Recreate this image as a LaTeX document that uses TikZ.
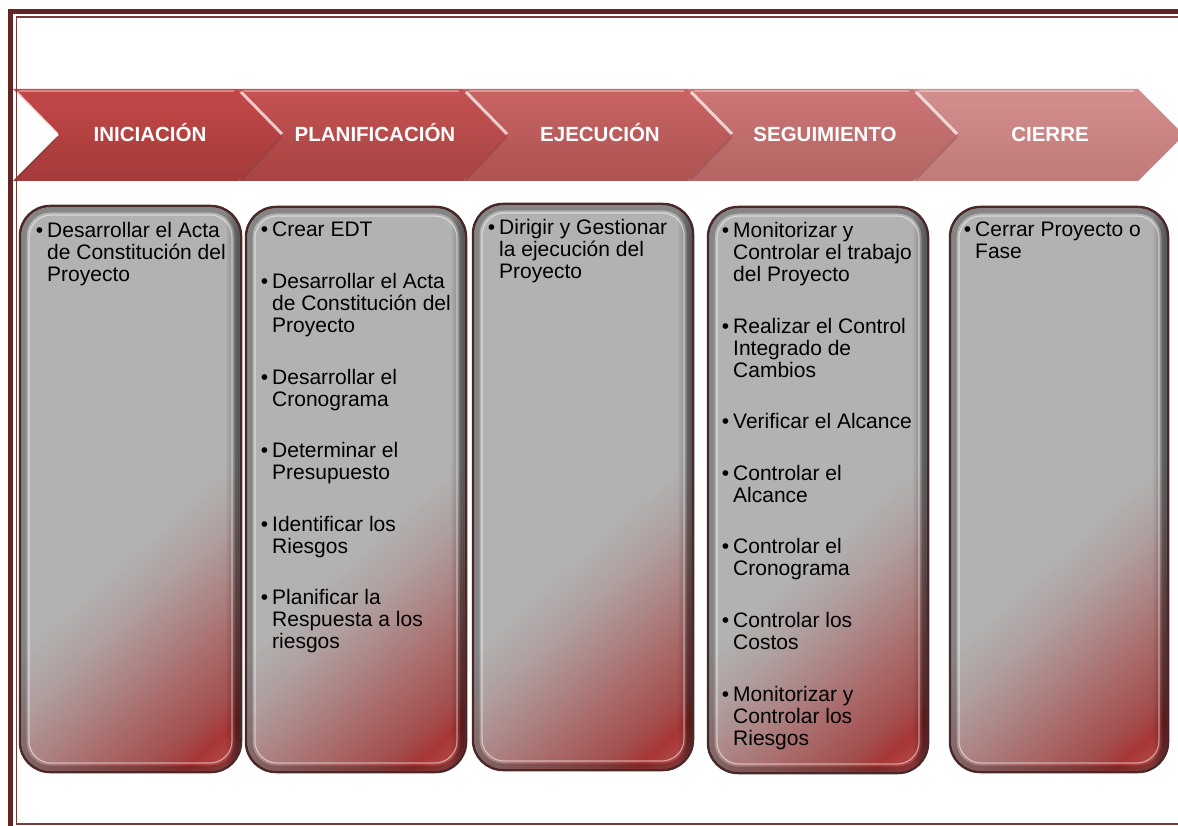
\documentclass[tikz,border=0pt]{standalone}
\usepackage{fontspec}
\setmainfont{Liberation Sans}
\usetikzlibrary{calc,fadings}

\definecolor{framered}{HTML}{632523}
\definecolor{frameline}{HTML}{7A3B39}
\definecolor{boxgray}{HTML}{B2B2B2}
\definecolor{bxa}{HTML}{B0A0A0}
\definecolor{bxb}{HTML}{AD8484}
\definecolor{bxc}{HTML}{A96666}
\definecolor{bxd}{HTML}{A44E4E}
\definecolor{bxe}{HTML}{A83636}
\definecolor{bxf}{HTML}{B04444}
\definecolor{bxg}{HTML}{B85A5A}
\definecolor{boxrim}{HTML}{4A2828}
\definecolor{chtop0}{HTML}{C34848}
\definecolor{chbot0}{HTML}{A53A3A}
\definecolor{chtop1}{HTML}{C65252}
\definecolor{chbot1}{HTML}{A84343}
\definecolor{chtop2}{HTML}{C96464}
\definecolor{chbot2}{HTML}{AE5252}
\definecolor{chtop3}{HTML}{CD7676}
\definecolor{chbot3}{HTML}{B46464}
\definecolor{chtop4}{HTML}{D58E8E}
\definecolor{chbot4}{HTML}{C07A7A}

\pgfdeclareverticalshading{boxshade}{100bp}{color(0bp)=(bxg); color(25bp)=(bxg); color(27bp)=(bxf); color(28.5bp)=(bxe); color(30.5bp)=(bxd); color(34bp)=(bxc); color(38bp)=(bxb); color(42bp)=(bxa); color(46bp)=(boxgray); color(100bp)=(boxgray)}

\tikzset{
  hdr/.style={anchor=base, text=white, font=\bfseries\fontsize{20.5}{24}\selectfont},
  itemtxt/.style={anchor=north west, inner sep=0pt, align=left, font=\fontsize{21}{22}\selectfont\parindent0pt},
  rimline/.style={draw=boxrim, line width=2.5pt, rounded corners=30pt}
}

\newcommand{\itm}{\llap{\textbullet\hspace{4pt}}}
\newcommand{\phasebox}[5]{%
  \coordinate (#1) at ({(#2+#4)/2},{(#3+#5)/2});
  \begin{scope}
    \clip[rounded corners=30pt] (#2,#3) rectangle (#4,#5);
    \shade[shading=boxshade, transform canvas={rotate around={42:(#1)}}] ($(#1)+(-300,-284)$) rectangle ($(#1)+(300,284)$);
    \fill[black, opacity=.4, path fading=west] (#4-16,#3) rectangle (#4,#5);
    \draw[black, opacity=.25, line width=5pt, rounded corners=26pt] (#2+4,#3+4) rectangle (#4-4,#5-4);
    \draw[white, opacity=.5, line width=1.2pt, rounded corners=22pt] (#2+9,#3+9) rectangle (#4-9,#5-9);
  \end{scope}
  \draw[rimline] (#2,#3) rectangle (#4,#5);
}

\begin{document}
\begin{tikzpicture}[x=1pt,y=-1pt]
  \useasboundingbox[fill=white] (0,0) rectangle (1178,826);

  \foreach \i/\lbl in {0/INICIACIÓN,1/PLANIFICACIÓN,2/EJECUCIÓN,3/SEGUIMIENTO,4/CIERRE} {
    \pgfmathsetmacro{\xa}{13+225*\i}
    \shade[top color=chtop\i, bottom color=chbot\i] (\xa,89) -- ++(225,0) -- ++(46,46) -- ++(-46,46) -- ++(-225,0) -- ++(46,-46) -- cycle;
    \draw[white, opacity=.35, line width=2pt] (\xa+6,91) -- ++(215,0);
    \draw[white, opacity=.7, line width=3pt] (\xa+3,92) -- (\xa+44,134);
    \draw[black, opacity=.15, line width=2pt] (\xa+44,137) -- (\xa+3,179);
    \node[hdr] (h\i) at (\xa+137,142) {\lbl};
  }

  \phasebox{b1}{20}{206}{241}{772}
  \phasebox{b2}{246}{207}{466}{772}
  \phasebox{b3}{473}{204}{693}{770}
  \phasebox{b4}{708}{207}{928}{773}
  \phasebox{b5}{950}{207}{1168}{772}

  \node[itemtxt] (t1) at (47,222) {\itm Desarrollar el Acta\\de Constitución del\\Proyecto};
  \node[itemtxt] (t2) at (272,222) {\itm Crear EDT\\[29.6pt]\itm Desarrollar el Acta\\de Constitución del\\Proyecto\\[29.6pt]\itm Desarrollar el\\Cronograma\\[29.6pt]\itm Determinar el\\Presupuesto\\[29.6pt]\itm Identificar los\\Riesgos\\[29.6pt]\itm Planificar la\\Respuesta a los\\riesgos};
  \node[itemtxt] (t3) at (499,219) {\itm Dirigir y Gestionar\\la ejecución del\\Proyecto};
  \node[itemtxt] (t4) at (733,222) {\itm Monitorizar y\\Controlar el trabajo\\del Proyecto\\[29.6pt]\itm Realizar el Control\\Integrado de\\Cambios\\[29.6pt]\itm Verificar el Alcance\\[29.6pt]\itm Controlar el\\Alcance\\[29.6pt]\itm Controlar el\\Cronograma\\[29.6pt]\itm Controlar los\\Costos\\[29.6pt]\itm Monitorizar y\\Controlar los\\Riesgos};
  \node[itemtxt] (t5) at (975,222) {\itm Cerrar Proyecto o\\Fase};

  \draw[framered, line width=5.5pt] (10.5,11.5) rectangle (1210,860);
  \draw[frameline, line width=1.5pt] (16.5,17) rectangle (1195,824);
\end{tikzpicture}
\end{document}
